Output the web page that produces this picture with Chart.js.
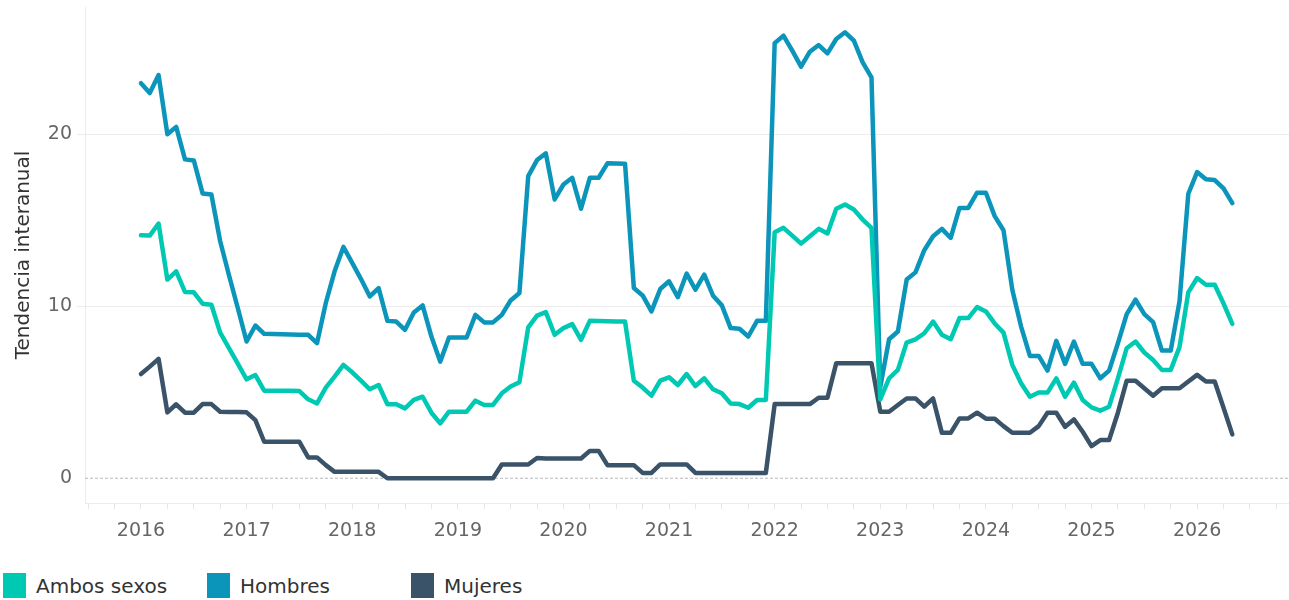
<!DOCTYPE html>
<html lang="es">
<head>
<meta charset="utf-8">
<title>Tendencia interanual</title>
<script src="https://cdn.jsdelivr.net/npm/chart.js@4.4.1/dist/chart.umd.min.js"></script>
<style>
  html, body { margin: 0; padding: 0; background: #fff; }
  body { width: 1289px; height: 600px; overflow: hidden; font-family: "DejaVu Sans", sans-serif; }
  #wrap { position: relative; width: 1289px; height: 560px; }
  #leyenda { position: absolute; left: 3px; top: 573px; display: flex; }
  .item { width: 204px; display: flex; align-items: flex-start; font-size: 20px; color: #333; }
  .caja { width: 23px; height: 25px; margin-right: 10px; flex: none; }
  .item span { line-height: 24px; padding-top: 1px; }
</style>
</head>
<body>
<div id="wrap"><canvas id="grafico"></canvas></div>
<div id="leyenda"></div>

<script>
// meses de enero 2016 a mayo 2026
const anios = [2016, 2017, 2018, 2019, 2020, 2021, 2022, 2023, 2024, 2025, 2026];
const mesesUltimoAnio = 5;
const yTicks = [0, 10, 20];

const ambosSexos = [
  14.13, 14.11, 14.81, 11.55, 12.03, 10.83, 10.81, 10.15, 10.09, 8.47, 7.56, 6.66,
  5.75, 6.0, 5.09, 5.09, 5.08, 5.08, 5.07, 4.59, 4.35, 5.27, 5.91, 6.59,
  6.16, 5.67, 5.17, 5.42, 4.3, 4.3, 4.06, 4.55, 4.74, 3.81, 3.19, 3.87,
  3.87, 3.87, 4.51, 4.26, 4.26, 4.94, 5.33, 5.58, 8.77, 9.46, 9.66, 8.34,
  8.73, 8.96, 8.05, 9.15, 9.14, 9.13, 9.12, 9.11, 5.67, 5.27, 4.8, 5.67,
  5.87, 5.42, 6.06, 5.36, 5.81, 5.17, 4.94, 4.35, 4.31, 4.1, 4.55, 4.55,
  14.3, 14.56, 14.11, 13.64, 14.07, 14.5, 14.23, 15.67, 15.92, 15.63, 15.04, 14.56,
  4.59, 5.81, 6.3, 7.89, 8.08, 8.43, 9.11, 8.34, 8.08, 9.31, 9.31, 9.95,
  9.7, 9.0, 8.47, 6.59, 5.52, 4.74, 4.98, 4.98, 5.81, 4.74, 5.56, 4.55,
  4.12, 3.93, 4.16, 5.81, 7.56, 7.95, 7.31, 6.88, 6.3, 6.3, 7.62, 10.81,
  11.64, 11.25, 11.25, 10.16, 8.97
];

const hombres = [
  22.97, 22.4, 23.44, 20.0, 20.43, 18.54, 18.48, 16.56, 16.5, 13.78, 11.8, 9.9,
  7.95, 8.88, 8.4, 8.38, 8.37, 8.36, 8.35, 8.34, 7.85, 10.19, 12.03, 13.45,
  12.52, 11.58, 10.57, 11.06, 9.15, 9.11, 8.63, 9.64, 10.05, 8.24, 6.78, 8.18,
  8.18, 8.18, 9.5, 9.06, 9.06, 9.5, 10.34, 10.77, 17.57, 18.5, 18.89, 16.21,
  17.08, 17.47, 15.67, 17.47, 17.47, 18.31, 18.3, 18.29, 11.06, 10.63, 9.7, 11.0,
  11.45, 10.53, 11.9, 10.96, 11.84, 10.61, 10.05, 8.73, 8.69, 8.24, 9.15, 9.15,
  25.3, 25.73, 24.86, 23.93, 24.8, 25.19, 24.7, 25.54, 25.93, 25.44, 24.18, 23.31,
  5.3, 8.08, 8.53, 11.55, 11.97, 13.26, 14.07, 14.5, 13.97, 15.72, 15.72, 16.6,
  16.6, 15.24, 14.42, 10.96, 8.82, 7.11, 7.11, 6.26, 7.99, 6.65, 7.95, 6.65,
  6.65, 5.81, 6.26, 7.85, 9.54, 10.38, 9.54, 9.08, 7.42, 7.42, 10.28, 16.54,
  17.8, 17.38, 17.34, 16.85, 16.0
];

const mujeres = [
  6.06, 6.49, 6.94, 3.83, 4.3, 3.81, 3.81, 4.31, 4.31, 3.87, 3.85, 3.85,
  3.83, 3.38, 2.12, 2.12, 2.12, 2.12, 2.12, 1.21, 1.21, 0.76, 0.37, 0.37,
  0.37, 0.37, 0.37, 0.37, 0, 0, 0, 0, 0, 0, 0, 0,
  0, 0, 0, 0, 0, 0.8, 0.8, 0.8, 0.8, 1.18, 1.15, 1.15,
  1.15, 1.15, 1.15, 1.59, 1.59, 0.76, 0.76, 0.76, 0.76, 0.31, 0.31, 0.8,
  0.8, 0.8, 0.8, 0.31, 0.31, 0.31, 0.31, 0.31, 0.31, 0.31, 0.31, 0.31,
  4.31, 4.31, 4.31, 4.31, 4.31, 4.68, 4.68, 6.69, 6.69, 6.69, 6.69, 6.69,
  3.87, 3.87, 4.26, 4.64, 4.64, 4.16, 4.64, 2.64, 2.64, 3.48, 3.48, 3.81,
  3.46, 3.46, 3.03, 2.64, 2.64, 2.64, 3.03, 3.81, 3.81, 2.99, 3.42, 2.7,
  1.87, 2.22, 2.22, 3.81, 5.67, 5.67, 5.23, 4.8, 5.23, 5.23, 5.23, 5.62,
  6.01, 5.62, 5.62, 4.1, 2.55
];

const colores = ['#00c9b3', '#0b95bb', '#3b5368'];
const nombres = ['Ambos sexos', 'Hombres', 'Mujeres'];

// posicion de cada mes en años decimales
const fechas = [];
anios.forEach(function(a, i) {
  const n = i === anios.length - 1 ? mesesUltimoAnio : 12;
  for (let m = 0; m < n; m++) fechas.push(a + m / 12);
});

function puntos(serie) {
  return serie.map(function(v, i) { return { x: fechas[i], y: v }; });
}

const lineaCero = {
  id: 'lineaCero',
  beforeDatasetsDraw(chart) {
    const { ctx, chartArea, scales } = chart;
    const py = scales.y.getPixelForValue(0);
    ctx.save();
    ctx.strokeStyle = '#b8b8b8';
    ctx.lineWidth = 1;
    ctx.setLineDash([3, 2]);
    ctx.beginPath();
    ctx.moveTo(chartArea.left, py);
    ctx.lineTo(chartArea.right, py);
    ctx.stroke();
    ctx.restore();
  }
};

const series = [ambosSexos, hombres, mujeres];

new Chart(document.getElementById('grafico'), {
  type: 'line',
  data: {
    datasets: series.map(function(s, i) {
      return {
        label: nombres[i],
        data: puntos(s),
        borderColor: colores[i],
        backgroundColor: colores[i],
        borderWidth: 4.5,
        pointRadius: 0,
        tension: 0,
        fill: false,
        borderJoinStyle: 'round',
        borderCapStyle: 'round'
      };
    })
  },
  options: {
    responsive: true,
    maintainAspectRatio: false,
    animation: false,
    layout: { padding: { top: 7, right: 0, left: 0, bottom: 0 } },
    plugins: {
      legend: { display: false },
      tooltip: { enabled: false }
    },
    scales: {
      x: {
        type: 'linear',
        min: 2015.47,
        max: 2026.87,
        afterFit: function(scale) {
          scale.height = 57;
          scale.paddingLeft = 0;
          scale.paddingRight = 0;
        },
        border: { color: '#ececec' },
        grid: { drawOnChartArea: false, tickLength: 6, tickColor: '#e6e6e6' },
        ticks: {
          stepSize: 0.25,
          includeBounds: false,
          autoSkip: false,
          maxRotation: 0,
          padding: 11,
          color: '#666',
          font: { family: 'DejaVu Sans', size: 19 },
          callback: function(v) { return anios.includes(v) ? String(v) : ''; }
        }
      },
      y: {
        min: -1.44,
        max: 27.4,
        afterFit: function(scale) {
          scale.width = 85;
          scale.paddingTop = 0;
          scale.paddingBottom = 0;
        },
        border: { color: '#ececec' },
        grid: {
          color: function(c) { return c.tick && c.tick.value === 0 ? 'rgba(0,0,0,0)' : '#ececec'; },
          tickLength: 8
        },
        afterBuildTicks: function(scale) { scale.ticks = yTicks.map(function(v) { return { value: v }; }); },
        ticks: {
          padding: 5,
          color: '#666',
          font: { family: 'DejaVu Sans', size: 19 }
        },
        title: {
          display: true,
          text: 'Tendencia interanual',
          color: '#333',
          padding: { top: 12, bottom: 0 },
          font: { family: 'DejaVu Sans', size: 20 }
        }
      }
    }
  },
  plugins: [lineaCero]
});

// leyenda
const leyenda = document.getElementById('leyenda');
nombres.forEach(function(n, i) {
  const item = document.createElement('div');
  item.className = 'item';
  const caja = document.createElement('div');
  caja.className = 'caja';
  caja.style.background = colores[i];
  const texto = document.createElement('span');
  texto.textContent = n;
  item.appendChild(caja);
  item.appendChild(texto);
  leyenda.appendChild(item);
});
</script>
</body>
</html>
